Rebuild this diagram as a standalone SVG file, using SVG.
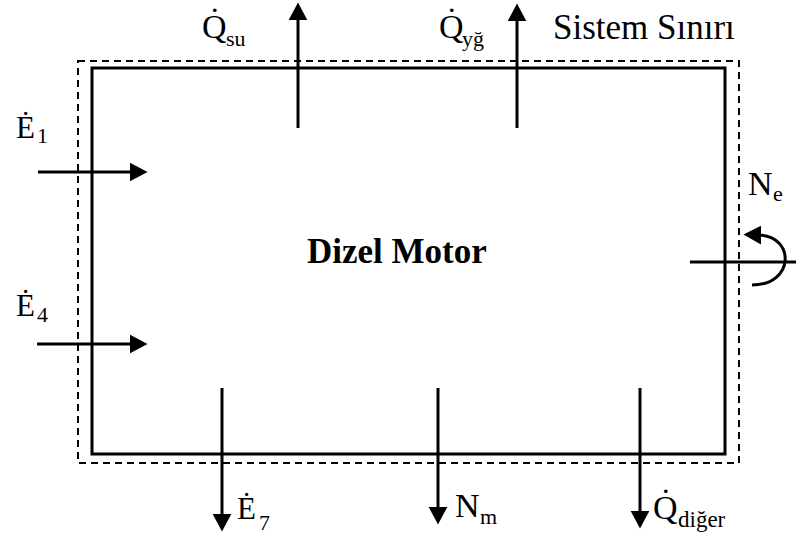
<svg xmlns="http://www.w3.org/2000/svg" width="796" height="541" viewBox="0 0 796 541">
<style>
text{font-family:'Liberation Serif','DejaVu Serif',serif;fill:#000}
.m{font-size:34px}
.s{font-size:22px}
.e{font-size:31px}
.b{font-size:35px;font-weight:bold}
.ln{stroke:#000;stroke-width:3;fill:none}
</style>
<defs>
<marker id="ah" markerUnits="userSpaceOnUse" markerWidth="20" markerHeight="20" viewBox="0 -9 18 18" refX="2" refY="0" orient="auto">
<path d="M0,-8.5 L16,0 L0,8.5 z" fill="#000"/>
</marker>
</defs>
<rect width="796" height="541" fill="#fff"/>
<g id="boundary">
<rect x="78" y="61" width="661" height="402" fill="none" stroke="#000" stroke-width="2" stroke-dasharray="7,5"/>
<text font-family="Liberation Serif, serif" x="553" y="39" font-size="35">Sistem Sınırı</text>
</g>
<g id="motor">
<rect x="92" y="68" width="633" height="386" fill="none" stroke="#000" stroke-width="3"/>
<text class="b" font-family="Liberation Serif, serif" x="307" y="263">Dizel Motor</text>
</g>
<g id="connectors">
<line class="ln" x1="298" y1="128" x2="298" y2="18" marker-end="url(#ah)"/>
<line class="ln" x1="517" y1="128" x2="517" y2="19" marker-end="url(#ah)"/>
<line class="ln" x1="38" y1="172" x2="132" y2="172" marker-end="url(#ah)"/>
<line class="ln" x1="37" y1="344" x2="132" y2="344" marker-end="url(#ah)"/>
<line class="ln" x1="222" y1="388" x2="222" y2="516" marker-end="url(#ah)"/>
<line class="ln" x1="438" y1="388" x2="438" y2="509" marker-end="url(#ah)"/>
<line class="ln" x1="640" y1="388" x2="640" y2="513" marker-end="url(#ah)"/>
<line class="ln" x1="690" y1="262" x2="796" y2="262"/>
<path class="ln" d="M752,285 C795,285 795,236 759,235" marker-end="url(#ah)"/>
</g>
<g id="labels">
<text class="m" x="202" y="38">Q&#x307;</text><text class="s" x="226" y="46">su</text>
<text class="m" x="439" y="38">Q&#x307;</text><text class="s" x="462" y="46">yğ</text>
<text class="e" x="16" y="138">Ė</text><text class="s" x="37" y="143">1</text>
<text class="e" x="16" y="316">Ė</text><text class="s" x="37" y="322">4</text>
<text class="m" x="748" y="195">N</text><text class="s" x="773" y="201">e</text>
<text class="e" x="237" y="519">Ė</text><text class="s" x="259" y="530">7</text>
<text class="m" x="455" y="517">N</text><text class="s" x="480" y="524">m</text>
<text class="m" x="653" y="519">Q&#x307;</text><text x="678" y="527" font-size="23">diğer</text>
</g>
</svg>
